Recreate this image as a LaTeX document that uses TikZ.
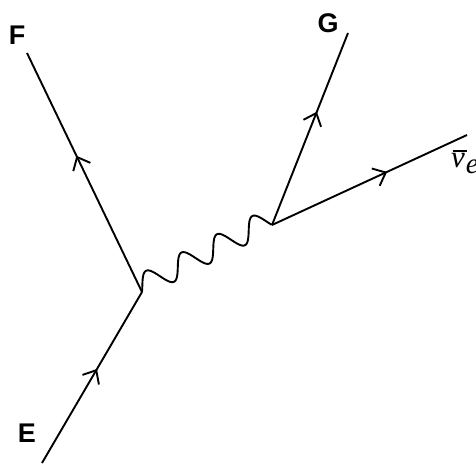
\documentclass[tikz,border=0pt]{standalone}
\usepackage{fontspec}
\setmainfont{Liberation Sans}
\newfontfamily\nufont{Liberation Serif}
\usetikzlibrary{arrows.meta,decorations.markings}
\tikzset{
  fermion/.style={line width=1.9pt, postaction={decorate},
    decoration={markings, mark=at position #1 with {\arrow{Straight Barb[length=11pt,width=19pt,line width=1.9pt]}}}},
  fermion/.default=0.56,
  lbl/.style={font=\bfseries\fontsize{27}{30}\selectfont, inner sep=0pt},
  wave/.style={line width=1.9pt}
}
\begin{document}
\begin{tikzpicture}[x=1pt,y=1pt]
\useasboundingbox (0,0) rectangle (476,464);
\coordinate (e) at (42,1);
\coordinate (v1) at (142,172);
\coordinate (f) at (27,411);
\coordinate (v2) at (272,239);
\coordinate (g) at (348,431);
\coordinate (nu) at (467,329);
\node[lbl] (lE) at (27,31) {E};
\node[lbl] (lF) at (17,429) {F};
\node[lbl] (lG) at (328,441) {G};
\node[inner sep=0pt, anchor=base west] (lnu) at (451,296.5)
  {\nufont\itshape\fontsize{31}{34}\selectfont\rlap{\kern0.05em\rule[0.5em]{0.46em}{1.5pt}}v\kern0.03em\raisebox{-6pt}{\fontsize{29}{32}\selectfont e}};
\draw[fermion=0.55] (e) -- (v1);
\draw[fermion=0.57] (v1) -- (f);
\draw[fermion=0.59] (v2) -- (g);
\draw[fermion=0.59] (v2) -- (nu);
\begin{scope}[shift={(v1)}, rotate=27.27]
\draw[wave] plot[domain=0:1, samples=200, smooth] ({146.25*\x}, {5.7+11.3*sin(1320*\x-30)});
\end{scope}
\end{tikzpicture}
\end{document}
